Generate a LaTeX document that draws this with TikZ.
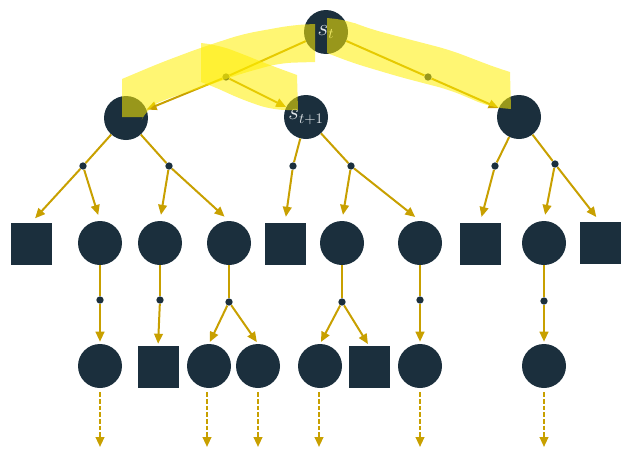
\documentclass[tikz,border=0pt]{standalone}
\usetikzlibrary{arrows.meta}
\definecolor{navy}{RGB}{27,47,61}
\definecolor{gold}{RGB}{200,160,0}
\definecolor{hlyellow}{RGB}{255,238,0}
\definecolor{labelgray}{RGB}{225,230,233}
\begin{document}
\begin{tikzpicture}[x=0.75pt,y=-0.75pt,
  state/.style={circle,fill=navy,minimum size=33pt,inner sep=0pt,text=labelgray,font=\fontsize{16}{16}\selectfont},
  term/.style={rectangle,fill=navy,minimum width=30.75pt,minimum height=31.5pt,inner sep=0pt},
  chance/.style={circle,fill=navy,minimum size=5.5pt,inner sep=0pt},
  link/.style={draw=gold,line width=1.5pt},
  arr/.style={link,-{Triangle[length=7.5pt,width=6.5pt]}},
  arrtwo/.style={arr,shorten >=4.5pt},
  arrthree/.style={arr,shorten >=1.5pt},
  future/.style={arr,dash pattern=on 3.5pt off 1.5pt},
  hl/.style={fill=hlyellow,fill opacity=0.55}
]
\useasboundingbox (0,0) rectangle (636,457);

% root and first level
\node[state] (root) at (326,32) {$s_t$};
\node[state] (a) at (126,118) {};
\node[state] (b) at (306,117) {$s_{t+1}$};
\node[state] (c) at (519,117) {};
\node[chance] (ca) at (226,77) {};
\node[chance] (cc) at (428,77) {};

% chance nodes below the first level
\node[chance] (a1) at (83,166) {};
\node[chance] (a2) at (169,166) {};
\node[chance] (b1) at (293,166) {};
\node[chance] (b2) at (351,166) {};
\node[chance] (c1) at (495,166) {};
\node[chance] (c2) at (555,164) {};

% second level
\node[term]  (t1)  at (31,244) {};
\node[state] (n2)  at (100,243) {};
\node[state] (n3)  at (160,243) {};
\node[state] (n4)  at (229,243) {};
\node[term]  (t5)  at (285,244) {};
\node[state] (n6)  at (342,243) {};
\node[state] (n7)  at (420,243) {};
\node[term]  (t8)  at (480,244) {};
\node[state] (n9)  at (544,243) {};
\node[term]  (t10) at (600,243) {};

% chance nodes below the second level
\node[chance] (d2) at (100,300) {};
\node[chance] (d3) at (160,300) {};
\node[chance] (d4) at (229,302) {};
\node[chance] (d6) at (342,302) {};
\node[chance] (d7) at (420,300) {};
\node[chance] (d9) at (544,301) {};

% third level
\node[state] (m1) at (100,366) {};
\node[term]  (m2) at (158,367) {};
\node[state] (m3) at (209,366) {};
\node[state] (m4) at (258,366) {};
\node[state] (m5) at (320,366) {};
\node[term]  (m6) at (369,367) {};
\node[state] (m7) at (420,366) {};
\node[state] (m8) at (544,366) {};

% loose ends of the continuing branches
\coordinate (e1) at (100,447);
\coordinate (e3) at (207,447);
\coordinate (e4) at (258,447);
\coordinate (e5) at (319,447);
\coordinate (e7) at (420,447);
\coordinate (e8) at (544,447);

% connectors, top level
\draw[link] (root) -- (ca);
\draw[arr] (ca) -- (a);
\draw[arr] (ca) -- (b);
\draw[link] (root) -- (cc);
\draw[arr] (cc) -- (c);

% connectors, first level
\draw[link] (a) -- (a1);
\draw[link] (a) -- (a2);
\draw[link] (b) -- (b1);
\draw[link] (b) -- (b2);
\draw[link] (c) -- (c1);
\draw[link] (c) -- (c2);
\draw[arrtwo] (a1) -- (t1.north);
\draw[arrtwo] (a1) -- (n2.north);
\draw[arrtwo] (a2) -- (n3.north);
\draw[arrtwo] (a2) -- (n4.north);
\draw[arrtwo] (b1) -- (t5.north);
\draw[arrtwo] (b2) -- (n6.north);
\draw[arrtwo] (b2) -- (n7.north);
\draw[arrtwo] (c1) -- (t8.north);
\draw[arrtwo] (c2) -- (n9.north);
\draw[arrtwo] (c2) -- (t10.north);

% connectors, second level
\draw[link] (n2) -- (d2);
\draw[link] (n3) -- (d3);
\draw[link] (n4) -- (d4);
\draw[link] (n6) -- (d6);
\draw[link] (n7) -- (d7);
\draw[link] (n9) -- (d9);
\draw[arrthree] (d2) -- (m1.north);
\draw[arrthree] (d3) -- (m2.north);
\draw[arrthree] (d4) -- (m3.north);
\draw[arrthree] (d4) -- (m4.north);
\draw[arrthree] (d6) -- (m5.north);
\draw[arrthree] (d6) -- (m6.north);
\draw[arrthree] (d7) -- (m7.north);
\draw[arrthree] (d9) -- (m8.north);

% dashed continuations
\draw[future] ([yshift=-3pt]m1.south) -- (e1);
\draw[future] ([xshift=-1.5pt,yshift=-3pt]m3.south) -- (e3);
\draw[future] ([yshift=-3pt]m4.south) -- (e4);
\draw[future] ([xshift=-0.75pt,yshift=-3pt]m5.south) -- (e5);
\draw[future] ([yshift=-3pt]m7.south) -- (e7);
\draw[future] ([yshift=-3pt]m8.south) -- (e8);

% highlighter strokes over the selected path
\fill[hl] (122,117) [sharp corners] -- (122,79) [rounded corners=10pt] -- (160,63)
  -- (200,48) -- (243,34) -- (293,25) [sharp corners] -- (315,24) -- (315,62)
  [rounded corners=10pt] -- (280,63) -- (240,74) -- (201,88) -- (163,100)
  -- (147,108) [sharp corners] -- (143,117) -- cycle;
\fill[hl] (201,82) [sharp corners] -- (201,43) [rounded corners=10pt] -- (218,45)
  -- (240,53) -- (267,64) [sharp corners] -- (297,75) -- (298,110)
  [rounded corners=10pt] -- (273,110) -- (243,100) -- (210,85) [sharp corners] -- cycle;
\fill[hl] (327,53) [sharp corners] -- (327,18) [rounded corners=10pt] -- (347,20)
  -- (367,28) -- (400,37) -- (450,50) -- (497,68) [sharp corners] -- (510,72)
  -- (511,109) [rounded corners=10pt] -- (490,107) -- (450,90) -- (400,77)
  -- (353,63) [sharp corners] -- cycle;
\end{tikzpicture}
\end{document}
